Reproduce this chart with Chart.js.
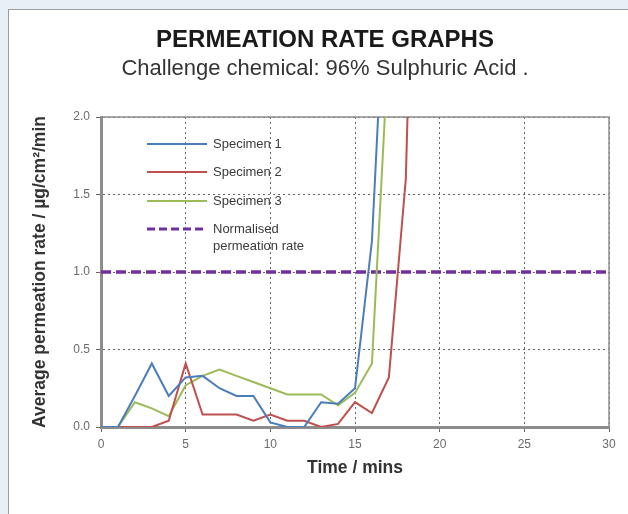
<!DOCTYPE html>
<html>
<head>
<meta charset="utf-8">
<title>Permeation rate graphs</title>
<script src="https://cdn.jsdelivr.net/npm/chart.js@4/dist/chart.umd.min.js"></script>
<style>
  html, body { margin: 0; padding: 0; width: 628px; height: 514px; overflow: hidden; background: #e8f0f7; }
  .frame { position: absolute; left: 8px; top: 9px; width: 640px; height: 520px; background: #fff; border: 1px solid #9c9c9c; }
  #chart { position: absolute; left: 0; top: 0; }
</style>
</head>
<body>
<div class="frame"></div>
<canvas id="chart" width="628" height="514"></canvas>
<script>
// time in minutes, rates in ug/cm2/min
const minutes = [0, 1, 2, 3, 4, 5, 6, 7, 8, 9, 10, 11, 12, 13, 14, 15, 16, 17, 18, 19];
const specimen1 = [0, 0, 0.2, 0.41, 0.2, 0.32, 0.33, 0.25, 0.2, 0.2, 0.03, 0, 0, 0.16, 0.15, 0.25, 1.2, 3.4];
const specimen2 = [0, 0, 0, 0, 0.04, 0.41, 0.08, 0.08, 0.08, 0.04, 0.08, 0.04, 0.04, 0, 0.02, 0.16, 0.09, 0.32, 1.6, 5.6];
const specimen3 = [0, 0, 0.16, 0.12, 0.07, 0.27, 0.33, 0.37, 0.33, 0.29, 0.25, 0.21, 0.21, 0.21, 0.14, 0.22, 0.41, 2.5];
const normTime = [0, 30];
const normRate = [1.0, 1.0];

const seriesNames = ["Specimen 1", "Specimen 2", "Specimen 3", ["Normalised", "permeation rate"]];
const seriesColors = ["#4a7ebb", "#c0504d", "#9bbb59", "#7030a0"];

const xTicks = [0, 5, 10, 15, 20, 25, 30];
const yTicks = [0, 0.5, 1.0, 1.5, 2.0];

const FONT = "'Liberation Sans', Arial, sans-serif";

function toPoints(xs, ys) {
  return ys.map((v, i) => ({ x: xs[i], y: v }));
}

// legend sits inside the plot, top left
const insideLegend = {
  id: "insideLegend",
  afterDatasetsDraw(chart) {
    const { ctx, chartArea } = chart;
    const rows = [27, 55, 84, 112];
    ctx.save();
    chart.data.datasets.forEach((ds, i) => {
      const y = chartArea.top + rows[i];
      const x0 = chartArea.left + 46;
      ctx.strokeStyle = ds.borderColor;
      ctx.lineWidth = Math.min(ds.borderWidth, 3);
      ctx.setLineDash(ds.borderDash ? [8, 4] : []);
      ctx.beginPath();
      ctx.moveTo(x0, y);
      ctx.lineTo(x0 + 60, y);
      ctx.stroke();
      ctx.setLineDash([]);
      ctx.fillStyle = "#3a3a3a";
      ctx.font = "13px " + FONT;
      ctx.textBaseline = "middle";
      const lines = Array.isArray(ds.label) ? ds.label : [ds.label];
      lines.forEach((t, j) => ctx.fillText(t, x0 + 66, y + j * 17));
    });
    ctx.restore();
  }
};

// grey frame on top and right of the plot
const plotFrame = {
  id: "plotFrame",
  beforeDatasetsDraw(chart) {
    const { ctx, chartArea } = chart;
    ctx.save();
    ctx.strokeStyle = "#8f8f8f";
    ctx.lineWidth = 1.5;
    ctx.beginPath();
    ctx.moveTo(chartArea.left, chartArea.top);
    ctx.lineTo(chartArea.right, chartArea.top);
    ctx.lineTo(chartArea.right, chartArea.bottom);
    ctx.stroke();
    ctx.restore();
  }
};

new Chart(document.getElementById("chart"), {
  type: "line",
  data: {
    datasets: [
      { label: seriesNames[0], data: toPoints(minutes, specimen1), borderColor: seriesColors[0], borderWidth: 2 },
      { label: seriesNames[1], data: toPoints(minutes, specimen2), borderColor: seriesColors[1], borderWidth: 2 },
      { label: seriesNames[2], data: toPoints(minutes, specimen3), borderColor: seriesColors[2], borderWidth: 2 },
      { label: seriesNames[3], data: toPoints(normTime, normRate), borderColor: seriesColors[3], borderWidth: 3.5, borderDash: [10, 5] },
    ],
  },
  options: {
    responsive: false,
    animation: false,
    elements: { point: { radius: 0 }, line: { tension: 0 } },
    layout: { padding: { left: 22, right: 0, top: 0, bottom: 0 } },
    plugins: {
      legend: { display: false },
      tooltip: { enabled: false },
      title: {
        display: true,
        text: "PERMEATION RATE GRAPHS",
        color: "#1a1a1a",
        font: { family: FONT, size: 24, weight: "bold", lineHeight: 1 },
        padding: { top: 28.4, bottom: 0 },
      },
      subtitle: {
        display: true,
        text: "Challenge chemical: 96% Sulphuric Acid .",
        color: "#333",
        font: { family: FONT, size: 22, lineHeight: 1 },
        padding: { top: 6, bottom: 36.6 },
      },
    },
    scales: {
      x: {
        type: "linear",
        min: 0,
        max: 30,
        afterBuildTicks: (scale) => { scale.ticks = xTicks.map((v) => ({ value: v })); },
        afterFit: (scale) => { scale.height = 87; scale.paddingRight = 19; },
        ticks: { color: "#6a6a6a", padding: 5, font: { family: FONT, size: 12 } },
        grid: { color: "#666", lineWidth: 1, tickLength: 5 },
        border: { color: "#8c8c8c", width: 3, dash: [2, 3] },
        title: {
          display: true,
          text: "Time / mins",
          color: "#333",
          font: { family: FONT, size: 17.5, weight: "bold" },
          padding: { top: 0, bottom: 35.5 },
        },
      },
      y: {
        min: 0,
        max: 2,
        afterBuildTicks: (scale) => { scale.ticks = yTicks.map((v) => ({ value: v })); },
        afterFit: (scale) => { scale.width = 79; },
        ticks: {
          color: "#6a6a6a",
          padding: 6,
          font: { family: FONT, size: 12 },
          callback: (v) => v.toFixed(1),
        },
        grid: { color: "#666", lineWidth: 1, tickLength: 5 },
        border: { color: "#8c8c8c", width: 3, dash: [2, 3] },
        title: {
          display: true,
          text: "Average permeation rate / µg/cm²/min",
          color: "#333",
          font: { family: FONT, size: 17.5, weight: "bold" },
          padding: { top: 8, bottom: 0 },
        },
      },
    },
  },
  plugins: [plotFrame, insideLegend],
});
</script>
</body>
</html>
